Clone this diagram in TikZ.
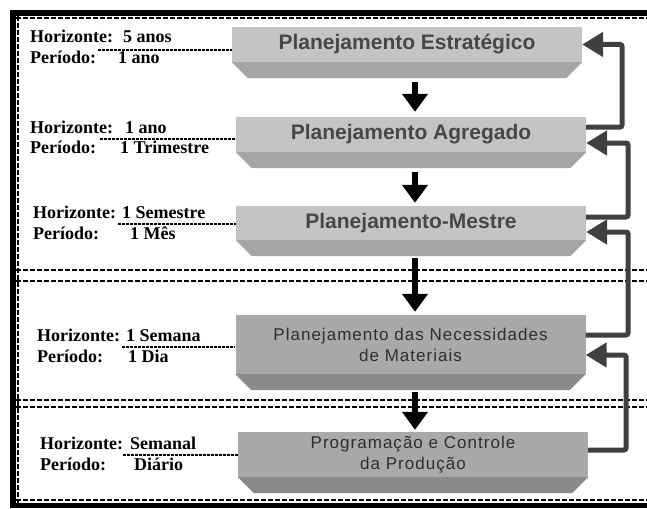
\documentclass[tikz,border=0pt]{standalone}
\usepackage{fontspec}
\setmainfont{Liberation Serif}
\newfontfamily\titlefont{Liberation Sans}
\newfontfamily\lsfont[LetterSpace=6]{Liberation Sans}
\usetikzlibrary{arrows.meta,calc}
\definecolor{faceA}{HTML}{C4C4C4}
\definecolor{bevA}{HTML}{A5A5A5}
\definecolor{faceB}{HTML}{A9A9A9}
\definecolor{bevB}{HTML}{8B8B8B}
\definecolor{fbcol}{HTML}{404040}
\definecolor{txtA}{HTML}{474747}
\definecolor{txtB}{HTML}{2E2E2E}
\begin{document}
\begin{tikzpicture}[x=1pt,y=-1pt,
  boxA/.style={rectangle, fill=faceA, inner sep=0pt, minimum width=350pt,
    font=\titlefont\bfseries\fontsize{21}{24}\selectfont, text=txtA},
  boxB/.style={rectangle, fill=faceB, inner sep=0pt, minimum width=350pt, align=center,
    font=\lsfont\fontsize{17}{21}\selectfont, text=txtB},
  lbl/.style={anchor=base west, inner sep=0pt, font=\bfseries\fontsize{18}{20}\selectfont},
  down/.style={draw=black, line width=6pt, -{Triangle[width=25pt,length=18pt]}},
  fb/.style={draw=fbcol, line width=5pt, rounded corners=2pt, -{Triangle[width=24pt,length=21pt]}},
  uline/.style={draw=black, line width=1.5pt, dash pattern=on 3pt off 1pt},
  sep/.style={draw=black, line width=2pt, dash pattern=on 5pt off 2pt}
]
\useasboundingbox (0,0) rectangle (647,508);
\fill[white] (0,0) rectangle (647,508);
% frame
\fill[black] (10,10) rectangle (647,16);
\fill[black] (10,10) rectangle (16,508);
\fill[black] (10,503) rectangle (647,508);
\draw[sep] (16,18) -- (647,18);
\draw[sep] (18,16) -- (18,503);
\draw[sep] (16,500) -- (647,500);
% separators
\draw[sep] (16,270) -- (647,270);
\draw[sep] (16,281) -- (647,281);
\draw[sep] (16,400) -- (647,400);
\draw[sep] (16,407) -- (647,407);

% boxes
\node[boxA, minimum height=35pt] (b1) at (407,44.5) {Planejamento Estratégico};
\node[boxA, minimum height=35pt] (b2) at (411,134.5) {Planejamento Agregado};
\node[boxA, minimum height=34pt] (b3) at (411,223) {Planejamento-Mestre};
\node[boxB, minimum height=59pt] (b4) at (410.5,344.5) {Planejamento das Necessidades\\de Materiais};
\node[boxB, minimum height=45pt] (b5) at (413,454.5) {Programação e Controle\\da Produção};
\foreach \b/\c in {b1/bevA,b2/bevA,b3/bevA,b4/bevB,b5/bevB}{
  \fill[\c] (\b.south west) -- (\b.south east) -- ++(-16,16) -- ($(\b.south west)+(16,16)$) -- cycle;
  \coordinate (\b bot) at ($(\b.south)+(0,16)$);
}

% labels
\node[lbl] (h1) at (30,43) {Horizonte:};
\node[lbl] (h1v) at (123,43) {5 anos};
\node[lbl] (p1) at (30,64) {Período:};
\node[lbl] (p1v) at (118,64) {1 ano};
\node[lbl] (h2) at (30,133) {Horizonte:};
\node[lbl] (h2v) at (125,133) {1 ano};
\node[lbl] (p2) at (30,153) {Período:};
\node[lbl] (p2v) at (120,153) {1 Trimestre};
\node[lbl] (h3) at (33,218) {Horizonte:};
\node[lbl] (h3v) at (122,218) {1 Semestre};
\node[lbl] (p3) at (33,239) {Período:};
\node[lbl] (p3v) at (130,239) {1 Mês};
\node[lbl] (h4) at (37,341) {Horizonte:};
\node[lbl] (h4v) at (126,341) {1 Semana};
\node[lbl] (p4) at (37,362) {Período:};
\node[lbl] (p4v) at (128,362) {1 Dia};
\node[lbl] (h5) at (40,449) {Horizonte:};
\node[lbl] (h5v) at (130,449) {Semanal};
\node[lbl] (p5) at (40,470) {Período:};
\node[lbl] (p5v) at (134,470) {Diário};

% underline connectors
\coordinate (u1) at (98,50);
\coordinate (u2) at (100,139);
\coordinate (u3) at (118,224);
\coordinate (u4) at (122,347);
\coordinate (u5) at (123,455);
\foreach \u/\b in {u1/b1,u2/b2,u3/b3,u4/b4,u5/b5}{
  \draw[uline] (\u) -- (\u -| \b.west);
}

% down arrows
\coordinate (ax) at (415,0);
\draw[down, shorten <=4pt, shorten >=5pt] (b1bot -| ax) -- (b2.north -| ax);
\draw[down, shorten <=4pt, shorten >=3pt] (b2bot -| ax) -- (b3.north -| ax);
\draw[down, shorten <=2pt, shorten >=3pt] (b3bot -| ax) -- (b4.north -| ax);
\draw[down, shorten <=2pt, shorten >=2pt] (b4bot -| ax) -- (b5.north -| ax);

% feedback arrows
\coordinate (r1) at (622,0);
\coordinate (r2) at (628,0);
\coordinate (r3) at (628,0);
\coordinate (r4) at (626,0);
\coordinate (o2) at ($(b2.east)+(0,-7.5)$);
\coordinate (o3) at ($(b3.east)+(0,-6)$);
\coordinate (o4) at ($(b4.east)+(0,-9.5)$);
\coordinate (o5) at ($(b5.east)+(0,-4.5)$);
\coordinate (i2) at ($(b2.east)+(0,8.5)$);
\coordinate (i3) at ($(b3.east)+(0,9)$);
\coordinate (i4) at ($(b4.east)+(0,10.5)$);
\draw[fb] (o2) -- (o2 -| r1) -- (b1.east -| r1) -- (b1.east);
\draw[fb] (o3) -- (o3 -| r2) -- (i2 -| r2) -- (i2);
\draw[fb] (o4) -- (o4 -| r3) -- (i3 -| r3) -- (i3);
\draw[fb] (o5) -- (o5 -| r4) -- (i4 -| r4) -- (i4);
\end{tikzpicture}
\end{document}
